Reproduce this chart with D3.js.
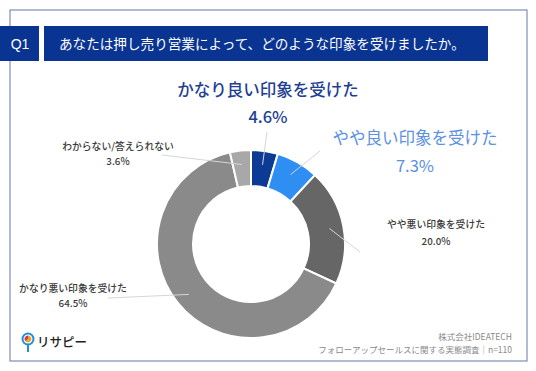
<!DOCTYPE html>
<html>
<head>
<meta charset="utf-8">
<script src="https://cdn.jsdelivr.net/npm/d3@7"></script>
<style>
  body { margin: 0; background: #fff; }
  text { font-family: "Noto Sans CJK JP", "Noto Sans", sans-serif; }
</style>
</head>
<body>
<div id="chart"></div>
<script>
// data
var labels = ["かなり良い印象を受けた", "やや良い印象を受けた", "やや悪い印象を受けた", "かなり悪い印象を受けた", "わからない/答えられない"];
var values = [4.6, 7.3, 20.0, 64.5, 3.6];
var colors = ["#0d3a94", "#2f8ef2", "#666666", "#8a8a8a", "#a8a8a8"];
var title = "あなたは押し売り営業によって、どのような印象を受けましたか。";
var footer = ["株式会社IDEATECH", "フォローアップセールスに関する実態調査｜n=110"];

var width = 536, height = 371;
var svg = d3.select("#chart").append("svg")
  .attr("width", width).attr("height", height);

// frame
svg.append("rect")
  .attr("x", 10).attr("y", 10).attr("width", 517).attr("height", 351)
  .attr("fill", "none").attr("stroke", "#7d8fb5").attr("stroke-width", 1.2);

// title bar
svg.append("rect").attr("x", 0).attr("y", 26).attr("width", 39).attr("height", 35).attr("fill", "#0a3491");
svg.append("rect").attr("x", 44).attr("y", 26).attr("width", 444).attr("height", 35).attr("fill", "#0a3491");
svg.append("text").attr("x", 20).attr("y", 49).attr("text-anchor", "middle")
  .attr("fill", "#fff").style("font-family", "Liberation Sans, Arial, sans-serif").style("font-size", "14px").text("Q1");
svg.append("text").attr("x", 59).attr("y", 49)
  .attr("fill", "#fff").style("font-size", "13.6px").text(title);

// donut
var cx = 251, cy = 244, outerR = 94, innerR = 58;
var g = svg.append("g").attr("transform", "translate(" + cx + "," + cy + ")");

var pie = d3.pie().sort(null).value(d => d);
var arcs = pie(values);
var arc = d3.arc().innerRadius(innerR).outerRadius(outerR);

g.selectAll("path.slice")
  .data(arcs)
  .enter().append("path")
  .attr("class", "slice")
  .attr("d", arc)
  .attr("fill", (d, i) => colors[i])
  .attr("stroke", "#fff")
  .attr("stroke-width", 2);

// label anchors (centre x, baseline of name, baseline of percent)
var labelPos = [[268, 96, 123], [415, 144, 172], [436, 228, 245], [73, 292, 307], [118, 150, 165]];
var labelStyle = [
  {size: 16.5, color: "#1e3f93", weight: 500},
  {size: 16.5, color: "#5b90e3", weight: 400},
  {size: 9.8, color: "#3a3a3a", weight: 500},
  {size: 9.8, color: "#3a3a3a", weight: 500},
  {size: 9.8, color: "#3a3a3a", weight: 500}
];
// leader line end points (outside) for each slice
var leaderEnd = [[267, 132], [320, 151], [360, 252], [108, 298], [162, 155]];

arcs.forEach(function(d, i) {
  var mid = (d.startAngle + d.endAngle) / 2;
  var r0 = (innerR + outerR) / 2 + 4;
  var x0 = cx + Math.sin(mid) * r0, y0 = cy - Math.cos(mid) * r0;
  svg.append("line")
    .attr("x1", x0).attr("y1", y0)
    .attr("x2", leaderEnd[i][0]).attr("y2", leaderEnd[i][1])
    .attr("stroke", "#d6d6d6").attr("stroke-width", 1);

  var s = labelStyle[i];
  svg.append("text")
    .attr("x", labelPos[i][0]).attr("y", labelPos[i][1])
    .attr("text-anchor", "middle")
    .attr("fill", s.color).style("font-size", s.size + "px").style("font-weight", s.weight)
    .text(labels[i]);
  svg.append("text")
    .attr("x", labelPos[i][0]).attr("y", labelPos[i][2])
    .attr("text-anchor", "middle")
    .attr("fill", s.color).style("font-size", s.size + "px").style("font-weight", s.weight)
    .text(d3.format(".1f")(values[i]) + "%");
});

// logo
var logo = svg.append("g").attr("transform", "translate(28,339)");
logo.append("circle").attr("r", 6.5).attr("fill", "#1f8fd8");
logo.append("circle").attr("r", 4.5).attr("fill", "#fff");
logo.append("path").attr("d", d3.arc().innerRadius(0).outerRadius(3.5)({startAngle: 0, endAngle: Math.PI * 1.3})).attr("fill", "#f2a12b");
logo.append("path").attr("d", d3.arc().innerRadius(0).outerRadius(3.5)({startAngle: Math.PI * 1.3, endAngle: Math.PI * 2})).attr("fill", "#d23b3b");
logo.append("line").attr("x1", 0).attr("y1", 6).attr("x2", 0).attr("y2", 13).attr("stroke", "#1f8fd8").attr("stroke-width", 2);
svg.append("text").attr("x", 37).attr("y", 347)
  .attr("fill", "#222").style("font-size", "12.5px").style("font-weight", 500).text("リサピー");

// footer
svg.append("text").attr("x", 512).attr("y", 340).attr("text-anchor", "end")
  .attr("fill", "#8a8a8a").style("font-size", "8.5px").text(footer[0]);
svg.append("text").attr("x", 512).attr("y", 353).attr("text-anchor", "end")
  .attr("fill", "#8a8a8a").style("font-size", "8.5px").text(footer[1]);
</script>
</body>
</html>
